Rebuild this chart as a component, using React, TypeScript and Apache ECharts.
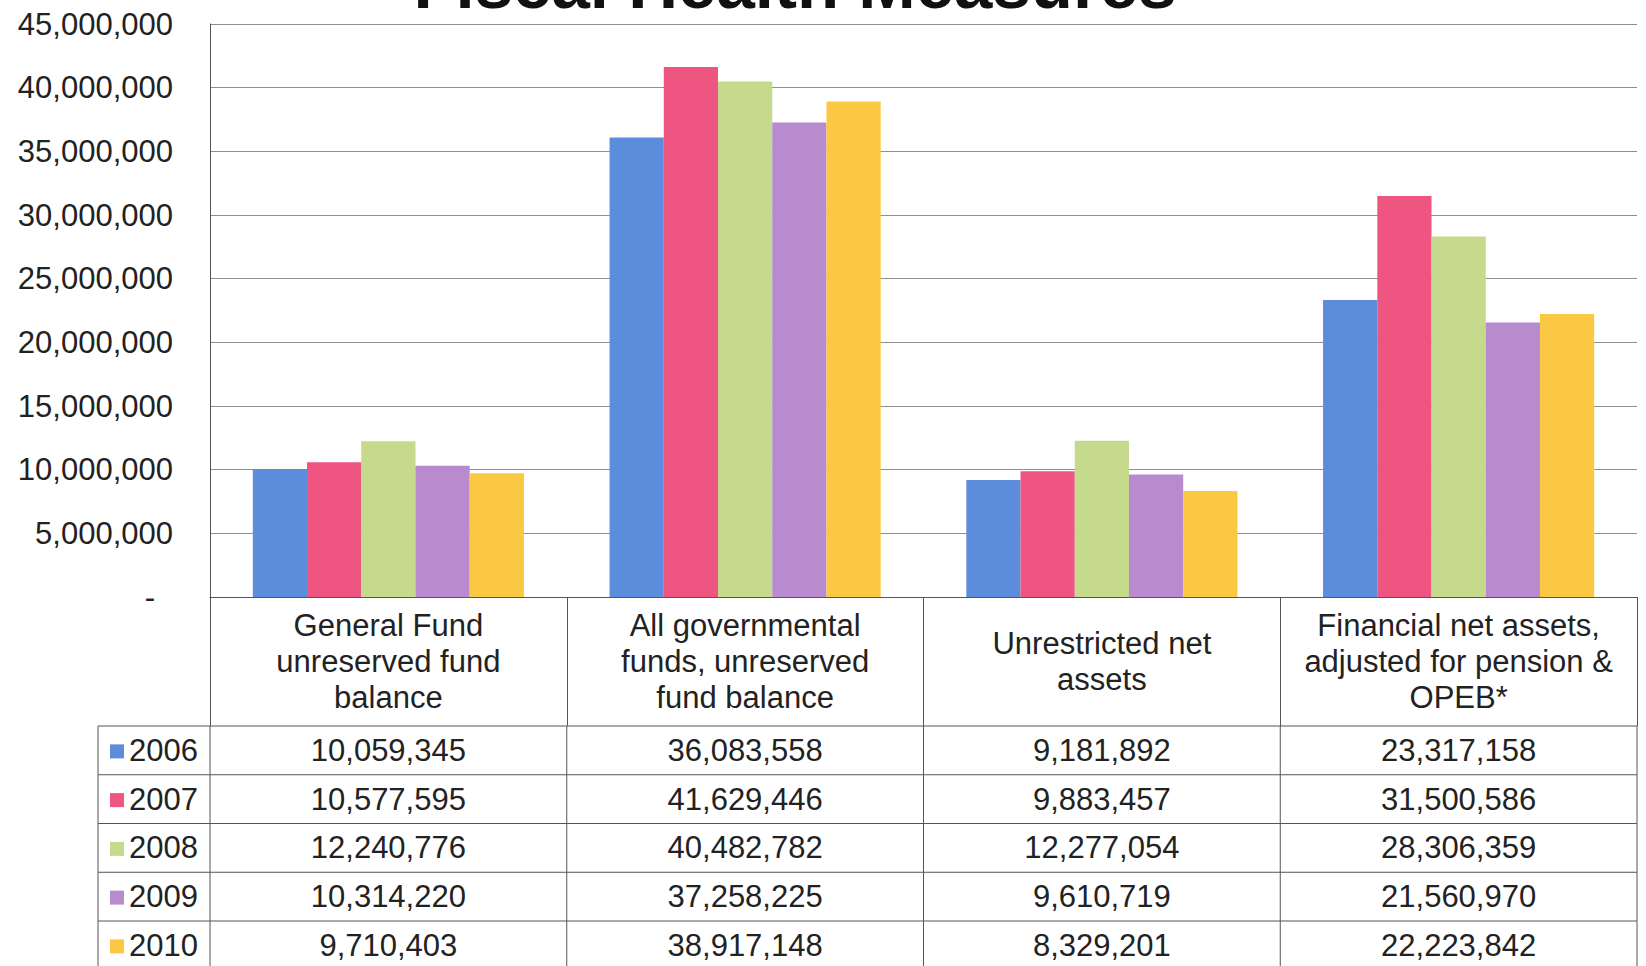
import React, { useEffect, useRef } from "react";
import * as echarts from "echarts";

const categories = [
  "General Fund\nunreserved fund\nbalance",
  "All governmental\nfunds, unreserved\nfund balance",
  "Unrestricted net\nassets",
  "Financial net assets,\nadjusted for pension &\nOPEB*",
];
const years = ["2006", "2007", "2008", "2009", "2010"];
const v2006 = [10059345, 36083558, 9181892, 23317158];
const v2007 = [10577595, 41629446, 9883457, 31500586];
const v2008 = [12240776, 40482782, 12277054, 28306359];
const v2009 = [10314220, 37258225, 9610719, 21560970];
const v2010 = [9710403, 38917148, 8329201, 22223842];
const values = [v2006, v2007, v2008, v2009, v2010];
const colors = ["#5b8ddc", "#ee5580", "#c6da8e", "#b88bcf", "#fbc843"];
const yTicks = { min: 0, max: 45000000, interval: 5000000 };

const FONT = '"Liberation Sans", Arial, Helvetica, sans-serif';
const W = 1646;
const H = 966;
const plotLeft = 210;
const plotRight = 1637;
const plotTop = 24;
const plotBottom = 597;
const headerBottom = 726;
const rowH = 48.75;
const tableLeft = 98;

const fmt = (n: number) => n.toLocaleString("en-US");

export default function App() {
  const ref = useRef<HTMLDivElement>(null);
  useEffect(() => {
    if (!ref.current) return;
    const chart = echarts.init(ref.current, null, { renderer: "svg" });
    const colW = (plotRight - plotLeft) / categories.length;
    const graphic: any[] = [];
    graphic.push({
      type: "text",
      x: 795,
      y: -16,
      style: {
        text: "Fiscal Health Measures",
        font: `bold 69px ${FONT}`,
        fill: "#111",
        align: "center",
        verticalAlign: "middle",
      },
    });
    const lineStyle = { stroke: "#555", lineWidth: 1 };
    for (let k = 0; k <= years.length; k++) {
      const y = headerBottom + k * rowH;
      graphic.push({ type: "line", shape: { x1: tableLeft, y1: y, x2: plotRight, y2: y }, style: lineStyle });
    }
    const tableBottom = headerBottom + years.length * rowH;
    graphic.push({ type: "line", shape: { x1: tableLeft, y1: headerBottom, x2: tableLeft, y2: tableBottom }, style: lineStyle });
    for (let j = 0; j <= categories.length; j++) {
      const x = plotLeft + j * colW;
      graphic.push({ type: "line", shape: { x1: x, y1: headerBottom, x2: x, y2: tableBottom }, style: lineStyle });
    }
    years.forEach((yr, i) => {
      const cy = headerBottom + i * rowH + rowH / 2;
      graphic.push({ type: "rect", shape: { x: 110, y: cy - 6, width: 14, height: 14 }, style: { fill: colors[i] } });
      graphic.push({
        type: "text",
        x: 129,
        y: cy,
        style: { text: yr, font: `31px ${FONT}`, fill: "#222", align: "left", verticalAlign: "middle" },
      });
      values[i].forEach((v, j) => {
        graphic.push({
          type: "text",
          x: plotLeft + j * colW + colW / 2,
          y: cy,
          style: { text: fmt(v), font: `31px ${FONT}`, fill: "#222", align: "center", verticalAlign: "middle" },
        });
      });
    });

    chart.setOption({
      animation: false,
      backgroundColor: "#ffffff",
      grid: { left: plotLeft, right: W - plotRight, top: plotTop, bottom: H - plotBottom, containLabel: false },
      xAxis: {
        type: "category",
        data: categories,
        axisLine: { lineStyle: { color: "#555", width: 1 } },
        axisTick: { show: true, interval: 0, length: headerBottom - plotBottom, lineStyle: { color: "#555", width: 1 } },
        axisLabel: {
          interval: 0,
          margin: (headerBottom - plotBottom) / 2,
          verticalAlign: "middle",
          lineHeight: 36,
          fontSize: 31,
          fontFamily: FONT,
          color: "#222",
        },
        splitLine: { show: false },
      },
      yAxis: {
        type: "value",
        min: yTicks.min,
        max: yTicks.max,
        interval: yTicks.interval,
        axisLine: { show: true, lineStyle: { color: "#555", width: 1 } },
        axisTick: { show: false },
        splitLine: { lineStyle: { color: "#8f8f8f", width: 1 } },
        axisLabel: {
          margin: 37,
          fontSize: 31,
          fontFamily: FONT,
          color: "#222",
          formatter: (v: number) => (v === 0 ? "{z|-}" : fmt(v)),
          rich: { z: { fontSize: 31, fontFamily: FONT, color: "#222", padding: [0, 18, 0, 0] } },
        },
      },
      series: years.map((y, i) => ({
        type: "bar",
        name: y,
        data: values[i],
        barGap: "0%",
        barCategoryGap: "24%",
        itemStyle: { color: colors[i] },
      })),
      graphic,
    });
    return () => chart.dispose();
  }, []);
  return (
    <div
      ref={ref}
      style={{ position: "fixed", left: 0, top: 0, width: W, height: H, background: "#fff" }}
    />
  );
}
